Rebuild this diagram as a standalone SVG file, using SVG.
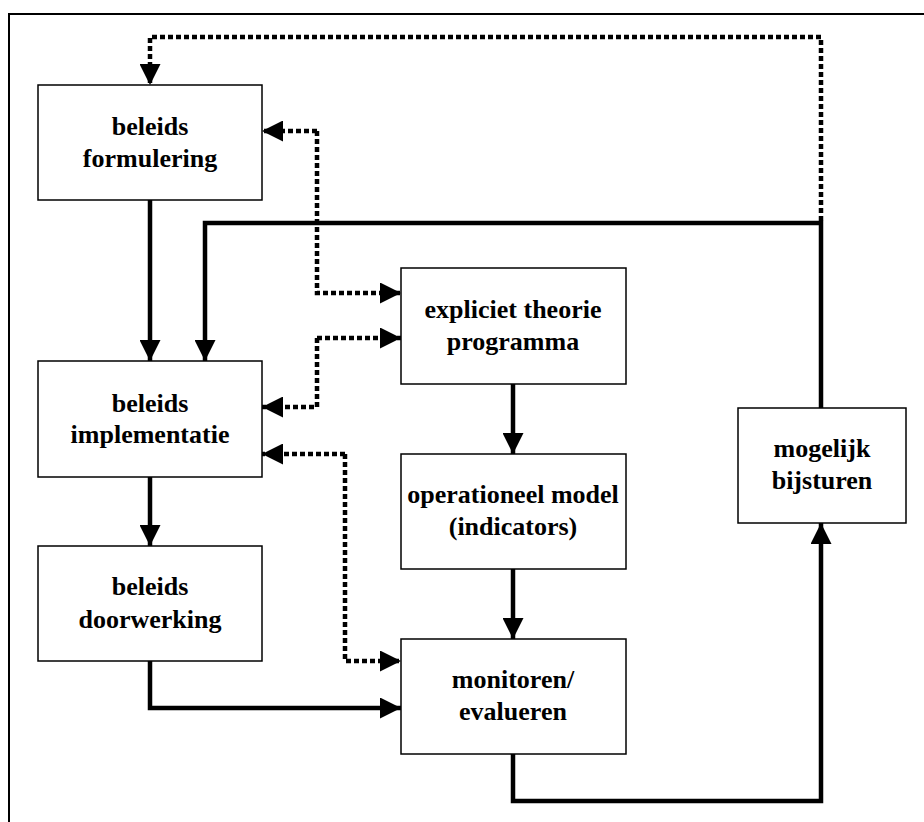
<svg xmlns="http://www.w3.org/2000/svg" width="924" height="822" viewBox="0 0 924 822">
  <style>
    .frame { fill: none; stroke: #000; stroke-width: 2; }
    .box { fill: #fff; stroke: #000; stroke-width: 1.5; }
    .lbl { font-family: "Liberation Serif", "Times New Roman", serif; font-weight: bold; font-size: 26px; fill: #000; text-anchor: middle; }
    .solid { fill: none; stroke: #000; stroke-width: 4.5; }
    .dot { fill: none; stroke: #000; stroke-width: 4.5; stroke-dasharray: 5 3; }
  </style>
  <defs>
    <marker id="arrow" viewBox="0 0 21 21" refX="21" refY="10.5" markerWidth="21" markerHeight="21" markerUnits="userSpaceOnUse" orient="auto">
      <path d="M0,0 L21,10.5 L0,21 Z" fill="#000"/>
    </marker>
  </defs>

  <rect width="924" height="822" fill="#fff"/>
  <!-- outer frame -->
  <path class="frame" d="M9,822 V14 H924"/>

  <g id="connectors">
    <!-- solid flow -->
    <path class="solid" d="M150,200 V361" marker-end="url(#arrow)"/>
    <path class="solid" d="M821,408 V223 H205 V361" marker-end="url(#arrow)"/>
    <path class="solid" d="M150,477 V546" marker-end="url(#arrow)"/>
    <path class="solid" d="M513,384 V454" marker-end="url(#arrow)"/>
    <path class="solid" d="M513,569 V639" marker-end="url(#arrow)"/>
    <path class="solid" d="M150,661 V708 H401" marker-end="url(#arrow)"/>
    <path class="solid" d="M513,754 V801 H821 V523" marker-end="url(#arrow)"/>
    <!-- dotted feedback -->
    <path class="dot" d="M821,221 V37 H150 V85" marker-end="url(#arrow)"/>
    <path class="dot" d="M317,131 H262" marker-end="url(#arrow)"/>
    <path class="dot" d="M317,131 V293 H401" marker-end="url(#arrow)"/>
    <path class="dot" d="M317,338 H401" marker-end="url(#arrow)"/>
    <path class="dot" d="M317,338 V407 H262" marker-end="url(#arrow)"/>
    <path class="dot" d="M345,454 H262" marker-end="url(#arrow)"/>
    <path class="dot" d="M345,454 V661 H401" marker-end="url(#arrow)"/>
  </g>

  <g id="beleids-formulering">
    <rect class="box" x="38" y="85" width="224" height="115"/>
    <text class="lbl" x="150" y="135">beleids</text>
    <text class="lbl" x="150" y="167">formulering</text>
  </g>
  <g id="beleids-implementatie">
    <rect class="box" x="38" y="361" width="224" height="116"/>
    <text class="lbl" x="150" y="412">beleids</text>
    <text class="lbl" x="150" y="443">implementatie</text>
  </g>
  <g id="beleids-doorwerking">
    <rect class="box" x="38" y="546" width="224" height="115"/>
    <text class="lbl" x="150" y="595">beleids</text>
    <text class="lbl" x="150" y="628">doorwerking</text>
  </g>
  <g id="expliciet-theorie">
    <rect class="box" x="401" y="268" width="225" height="116"/>
    <text class="lbl" x="513" y="318">expliciet theorie</text>
    <text class="lbl" x="513" y="350">programma</text>
  </g>
  <g id="operationeel-model">
    <rect class="box" x="401" y="454" width="225" height="115"/>
    <text class="lbl" x="513" y="503">operationeel model</text>
    <text class="lbl" x="513" y="535">(indicators)</text>
  </g>
  <g id="monitoren">
    <rect class="box" x="401" y="639" width="225" height="115"/>
    <text class="lbl" x="513" y="688">monitoren/</text>
    <text class="lbl" x="513" y="720">evalueren</text>
  </g>
  <g id="bijsturen">
    <rect class="box" x="738" y="408" width="168" height="115"/>
    <text class="lbl" x="822" y="457">mogelijk</text>
    <text class="lbl" x="822" y="489">bijsturen</text>
  </g>
</svg>
